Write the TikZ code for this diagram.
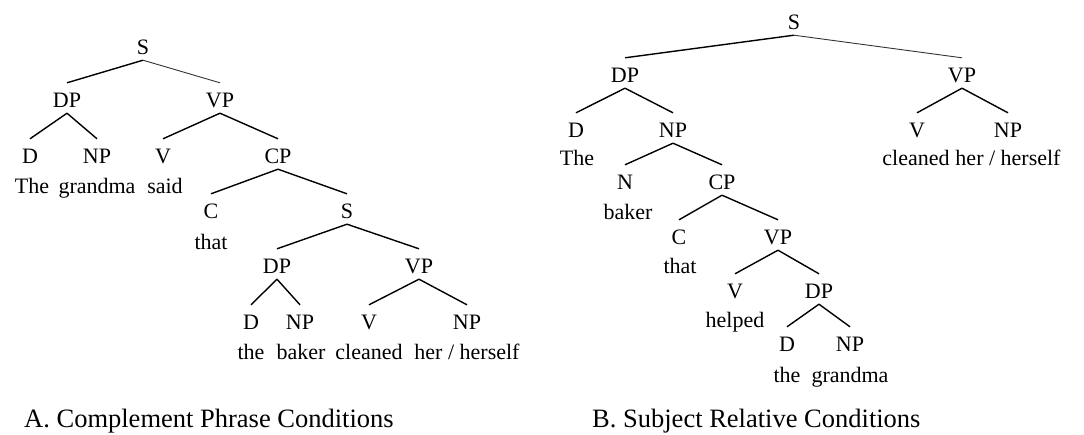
\documentclass[tikz,border=0pt]{standalone}
\usepackage{fontspec}
\setmainfont{Liberation Serif}
\begin{document}
\begin{tikzpicture}[x=1pt, y=-1pt]
  \tikzstyle{cat} = [anchor=base, inner sep=0pt, text height=24pt, text depth=6pt, font=\fontsize{22}{26}\selectfont]
  \tikzstyle{word} = [anchor=base, inner sep=0pt, font=\fontsize{22}{26}\selectfont]
  \tikzstyle{caption} = [anchor=base west, inner sep=0pt, font=\fontsize{26.5}{30}\selectfont]
  \tikzstyle{branch} = [line width=1.4pt]
  \tikzstyle{branchlight} = [line width=0.9pt, black!80]
  \useasboundingbox (0,0) rectangle (1084,434);

  % tree A
  \node[cat] (a-s) at (143,54) {S};
  \node[cat] (a-dp) at (67,107) {DP};
  \node[cat] (a-vp) at (220,107) {VP};
  \node[cat] (a-d) at (30,163) {D};
  \node[cat] (a-np) at (97,163) {NP};
  \node[cat] (a-v) at (163,163) {V};
  \node[cat] (a-cp) at (278,163) {CP};
  \node[word] (a-the) at (32,193) {The};
  \node[word] (a-grandma) at (97,193) {grandma};
  \node[word] (a-said) at (165,193) {said};
  \node[cat] (a-c) at (211,218) {C};
  \node[cat] (a-s2) at (347,218) {S};
  \node[word] (a-that) at (211,249) {that};
  \node[cat] (a-dp2) at (277,273) {DP};
  \node[cat] (a-vp2) at (419,273) {VP};
  \node[cat] (a-d2) at (251,329) {D};
  \node[cat] (a-np2) at (300,329) {NP};
  \node[cat] (a-v2) at (369,329) {V};
  \node[cat] (a-np3) at (467,329) {NP};
  \node[word] (a-the2) at (251,359) {the};
  \node[word] (a-baker) at (301,359) {baker};
  \node[word] (a-cleaned) at (369,359) {cleaned};
  \node[word] (a-her) at (467,359) {her / herself};

  \draw[branch] (a-s.south) -- (a-dp.north);
  \draw[branchlight] (a-s.south) -- (a-vp.north);
  \foreach \p/\c in {a-dp/a-d, a-dp/a-np, a-vp/a-v, a-vp/a-cp, a-cp/a-c, a-cp/a-s2,
                     a-s2/a-dp2, a-s2/a-vp2, a-dp2/a-d2, a-dp2/a-np2, a-vp2/a-v2, a-vp2/a-np3}
    \draw[branch] (\p.south) -- (\c.north);

  % tree B
  \node[cat] (b-s) at (794,29) {S};
  \node[cat] (b-dp) at (625,82) {DP};
  \node[cat] (b-vp) at (962,82) {VP};
  \node[cat] (b-d) at (576,137) {D};
  \node[cat] (b-np) at (673,137) {NP};
  \node[cat] (b-v) at (917,137) {V};
  \node[cat] (b-np2) at (1008,137) {NP};
  \node[word] (b-the) at (577,165) {The};
  \node[word] (b-cleaned) at (916,165) {cleaned};
  \node[word] (b-her) at (1008,165) {her / herself};
  \node[cat] (b-n) at (625,189) {N};
  \node[cat] (b-cp) at (722,189) {CP};
  \node[word] (b-baker) at (628,219) {baker};
  \node[cat] (b-c) at (679,244) {C};
  \node[cat] (b-vp2) at (778,244) {VP};
  \node[word] (b-that) at (680,273) {that};
  \node[cat] (b-v2) at (735,298) {V};
  \node[cat] (b-dp2) at (819,298) {DP};
  \node[word] (b-helped) at (735,327) {helped};
  \node[cat] (b-d2) at (787,351) {D};
  \node[cat] (b-np3) at (850,351) {NP};
  \node[word] (b-the2) at (787,382) {the};
  \node[word] (b-grandma) at (850,382) {grandma};

  \draw[branch] (b-s.south) -- (b-dp.north);
  \draw[branchlight] (b-s.south) -- (b-vp.north);
  \foreach \p/\c in {b-dp/b-d, b-dp/b-np, b-vp/b-v, b-vp/b-np2, b-np/b-n, b-np/b-cp,
                     b-cp/b-c, b-cp/b-vp2, b-vp2/b-v2, b-vp2/b-dp2, b-dp2/b-d2, b-dp2/b-np3}
    \draw[branch] (\p.south) -- (\c.north);

  % captions
  \node[caption] (cap-a) at (24,427) {A. Complement Phrase Conditions};
  \node[caption] (cap-b) at (592,427) {B. Subject Relative Conditions};
\end{tikzpicture}
\end{document}
